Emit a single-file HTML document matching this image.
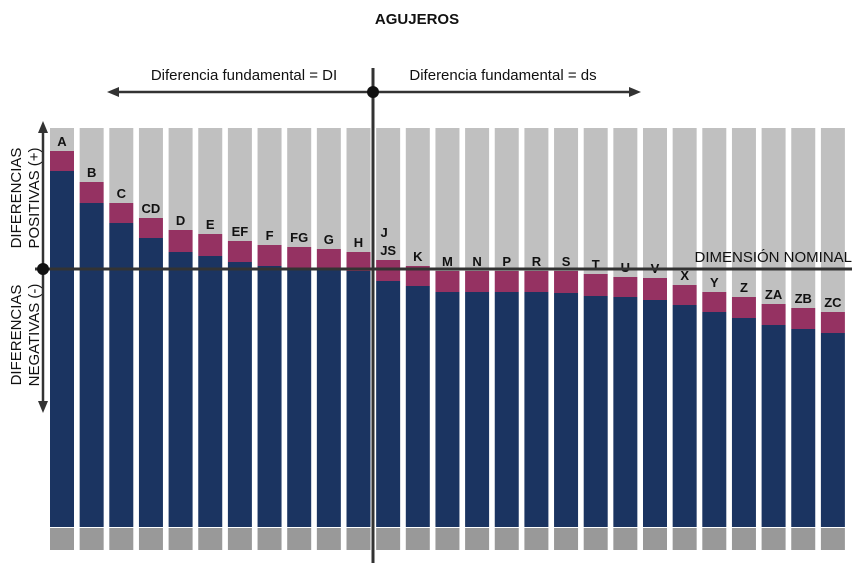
<!DOCTYPE html>
<html><head><meta charset="utf-8"><style>
html,body{margin:0;padding:0;background:#fff;}
svg{display:block;font-family:"Liberation Sans",sans-serif;}
</style></head><body>
<svg id="chart" width="857" height="563" viewBox="0 0 857 563">
<text x="417" y="24" text-anchor="middle" font-size="15" font-weight="bold" fill="#111">AGUJEROS</text>
<g id="bars"></g>
<g id="labels"></g>
<line x1="35" y1="269" x2="852" y2="269" stroke="#333" stroke-width="3"/>
<text x="852" y="262" text-anchor="end" font-size="15" fill="#111">DIMENSIÓN NOMINAL</text>
<line x1="373" y1="68" x2="373" y2="563" stroke="#333" stroke-width="3"/>
<line x1="115" y1="92" x2="633" y2="92" stroke="#333" stroke-width="2.5"/>
<polygon points="107,92 119,87 119,97" fill="#333"/>
<polygon points="641,92 629,87 629,97" fill="#333"/>
<circle cx="373" cy="92" r="6" fill="#111"/>
<text x="244" y="80" text-anchor="middle" font-size="15" fill="#111">Diferencia fundamental = DI</text>
<text x="503" y="80" text-anchor="middle" font-size="15" fill="#111">Diferencia fundamental = ds</text>
<line x1="43" y1="128" x2="43" y2="406" stroke="#333" stroke-width="2.5"/>
<polygon points="43,121 38,133 48,133" fill="#333"/>
<polygon points="43,413 38,401 48,401" fill="#333"/>
<circle cx="43" cy="269" r="6" fill="#111"/>
<g transform="translate(0,198) rotate(-90)">
<text x="0" y="21" text-anchor="middle" font-size="15" fill="#111">DIFERENCIAS</text>
<text x="0" y="39" text-anchor="middle" font-size="15" fill="#111">POSITIVAS (+)</text>
</g>
<g transform="translate(0,335) rotate(-90)">
<text x="0" y="21" text-anchor="middle" font-size="15" fill="#111">DIFERENCIAS</text>
<text x="0" y="39" text-anchor="middle" font-size="15" fill="#111">NEGATIVAS (-)</text>
</g>
</svg>
<script>
const categories = ["A","B","C","CD","D","E","EF","F","FG","G","H","JS","K","M","N","P","R","S","T","U","V","X","Y","Z","ZA","ZB","ZC"];
const upperDeviation = [118,87,66,51,39,35,28,24,22,20,17,9,3,-2,-2,-2,-2,-2,-5,-8,-9,-16,-23,-28,-35,-39,-43];
const lowerDeviation = [98,66,46,31,17,13,7,3,0,-1,-2,-12,-17,-23,-23,-23,-23,-24,-27,-28,-31,-36,-43,-49,-56,-60,-64];
const NS = "http://www.w3.org/2000/svg";
const x0 = 50, pitch = 29.65, bw = 24, yNom = 269, barTop = 128, barBottom = 527, footH = 22;
function xPos(i){ return x0 + i*pitch; }
function yPos(v){ return yNom - v; }
const gBars = document.getElementById('bars');
const gLab = document.getElementById('labels');
function addRect(x,y,w,h,fill,name){
  const r=document.createElementNS(NS,'rect');
  r.setAttribute('x',x);r.setAttribute('y',y);r.setAttribute('width',w);r.setAttribute('height',Math.max(0,h));r.setAttribute('fill',fill);
  
  
  gBars.appendChild(r);
}
categories.forEach((c,i)=>{
  const x=xPos(i), yu=yPos(upperDeviation[i]), yl=yPos(lowerDeviation[i]);
  addRect(x,barTop,bw,yu-barTop,'#c0c0c0','bar-bg-'+c.toLowerCase());
  addRect(x,yu,bw,yl-yu,'#953262','tolerance-zone-'+c.toLowerCase());
  addRect(x,yl,bw,barBottom-yl,'#1b3461','bar-base-'+c.toLowerCase());
  addRect(x,barBottom+1,bw,footH,'#999999','bar-foot-'+c.toLowerCase());
  const t=document.createElementNS(NS,'text');
  t.setAttribute('x',x+bw/2);t.setAttribute('y',yu-5);t.setAttribute('text-anchor','middle');
  t.setAttribute('font-size','13');t.setAttribute('font-weight','bold');t.setAttribute('fill','#111');
  t.textContent=c;
  
  
  gLab.appendChild(t);
  if(c==="JS"){
    const j=document.createElementNS(NS,'text');
    j.setAttribute('x',x+bw/2-4);j.setAttribute('y',yu-23);j.setAttribute('text-anchor','middle');
    j.setAttribute('font-size','13');j.setAttribute('font-weight','bold');j.setAttribute('fill','#111');
    j.textContent="J";
    
    
    gLab.appendChild(j);
  }
});
</script>
</body></html>
